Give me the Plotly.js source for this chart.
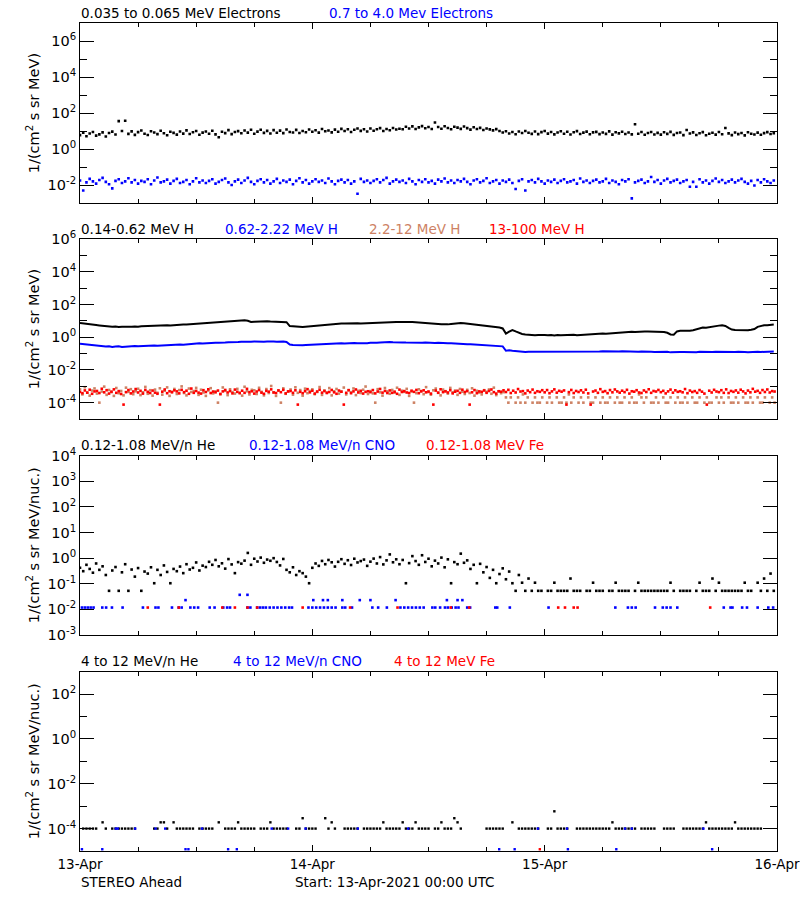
<!DOCTYPE html>
<html><head><meta charset="utf-8">
<script src="https://cdn.plot.ly/plotly-3.0.1.min.js"></script>
<style>html,body{margin:0;padding:0;background:#fff}#chart{width:800px;height:900px}</style>
</head><body><div id="chart"></div>
<script>
const _ = null;
const startDate = '2021-04-13';
const dayLabels = ['13-Apr', '14-Apr', '15-Apr', '16-Apr'];
const dayTicks = ['2021-04-13', '2021-04-14', '2021-04-15', '2021-04-16'];
const minorHours = [6, 12, 18, 30, 36, 42, 54, 60, 66];

// ---- Panel 1: electrons (20-min samples) ----
const elecLow = [
6.0,8.1,5.2,7.4,9.0,5.6,6.6,8.5,5.0,7.8,
9.4,6.5,36,10.2,38,7.0,9.7,6.2,8.8,10.8,
7.2,6.1,9.9,8.4,6.8,10.5,7.6,5.9,9.2,8.0,
6.4,9.6,7.3,11.0,6.9,8.7,10.1,6.3,8.2,9.5,
7.1,10.4,6.6,4.6,9.3,7.7,11.3,6.8,8.9,10.0,
7.6,10.8,8.2,11.9,7.2,9.4,12.0,8.0,10.3,7.4,
11.4,8.1,10.6,7.7,12.3,9.0,8.4,11.8,7.9,10.2,
8.6,12.4,9.3,11.1,8.2,13.0,9.8,10.9,8.5,12.1,
9.2,13.4,10.1,12.6,9.0,11.9,14.0,10.3,12.8,9.6,
13.9,10.5,12.7,14.6,10.2,13.2,11.1,15.0,12.4,13.6,
12.6,17.4,14.1,18.3,13.0,16.2,19.0,14.4,17.1,13.2,
30,16.8,13.6,18.7,14.9,12.8,17.5,15.6,13.4,18.0,
14.6,12.1,16.4,13.0,15.2,11.6,14.1,12.5,11.0,12.9,
10.1,8.3,9.9,7.4,8.9,6.7,9.6,7.8,10.2,8.1,
7.0,9.5,6.8,8.8,10.1,7.3,9.0,6.6,8.4,9.8,
7.1,9.3,6.5,8.7,10.0,6.9,8.2,9.4,6.7,8.5,
9.1,6.8,8.3,7.0,9.7,6.4,8.6,7.5,9.2,6.9,
8.4,6.6,24,7.2,8.9,6.3,7.9,9.0,6.5,8.0,
6.4,8.6,7.0,9.1,6.2,7.8,8.3,6.0,11.5,7.4,
8.5,6.1,7.6,8.8,5.9,7.2,8.1,6.4,8.9,6.7,
15,7.5,6.0,8.4,6.8,7.9,5.8,8.6,7.1,6.5,
8.2,6.3,7.7,8.8,6.9,7.6];
const elecHigh = [
.018,.005,.014,.022,.016,.012,.019,.025,.015,.011,
.0065,.017,.021,.013,.016,.024,.014,.019,.012,.017,
.015,.021,.011,.018,.026,.014,.016,.020,.012,.017,
.022,.013,.015,.019,.011,.016,.024,.014,.018,.013,
.017,.021,.012,.015,.019,.023,.014,.010,.016,.020,
.013,.018,.025,.015,.011,.017,.021,.014,.019,.012,
.016,.022,.013,.018,.015,.020,.011,.017,.024,.014,
.019,.012,.016,.021,.015,.018,.013,.023,.016,.011,
.017,.020,.014,.019,.012,.016,.0033,.022,.015,.018,
.013,.017,.021,.014,.019,.025,.012,.016,.020,.015,
.018,.013,.022,.016,.011,.019,.015,.021,.014,.017,
.012,.020,.016,.023,.014,.018,.013,.019,.016,.022,
.015,.011,.018,.021,.014,.017,.024,.013,.016,.019,
.012,.018,.015,.020,.013,.006,.017,.021,.005,.016,
.019,.014,.022,.016,.012,.018,.015,.020,.013,.017,
.021,.014,.016,.019,.012,.023,.015,.018,.013,.017,
.020,.014,.016,.022,.013,.018,.015,.011,.019,.016,
.021,.0018,.014,.017,.020,.013,.016,.028,.015,.019,
.012,.018,.022,.014,.017,.020,.013,.016,.019,.008,
.015,.008,.021,.014,.018,.012,.017,.023,.015,.019,
.013,.016,.020,.014,.018,.022,.015,.012,.017,.0095,
.019,.014,.021,.016,.013,.018];

// ---- Panel 2: protons ----
const hLow = [  // 20-min
7.6,7.0,6.6,6.1,5.8,5.6,5.3,5.0,4.7,4.5,
4.4,4.6,4.3,4.5,4.4,4.7,4.5,4.6,4.4,4.8,
4.9,5.1,4.9,5.2,5.0,5.3,5.4,5.5,5.3,5.6,
5.8,5.7,6.0,6.1,6.3,6.2,6.6,6.9,6.8,7.1,
7.4,7.6,8.0,8.2,8.1,8.6,8.9,9.3,9.5,9.8,
10.5,11.0,10.2,8.7,8.9,9.2,9.0,9.4,9.6,9.3,
9.0,8.8,8.9,8.7,8.5,4.9,4.6,4.4,4.5,4.3,
4.5,4.7,4.9,5.0,5.3,5.6,5.9,6.3,6.6,6.9,
6.8,7.0,6.9,7.1,6.8,7.0,7.2,6.9,7.1,7.0,
7.3,7.5,7.8,8.0,8.2,8.4,8.6,8.7,8.8,8.6,
8.8,8.7,8.9,8.6,8.3,7.9,7.5,7.2,6.9,7.0,
6.8,6.5,6.3,6.0,6.2,6.5,7.0,7.4,7.6,7.3,
6.9,6.3,5.9,5.6,5.5,5.4,5.2,4.9,4.6,4.4,
4.0,3.5,1.7,2.2,2.8,2.3,1.9,1.6,1.5,1.4,
1.4,1.35,1.4,1.45,1.4,1.35,1.4,1.3,1.4,1.35,
1.4,1.45,1.38,1.42,1.35,1.4,1.45,1.5,1.48,1.55,
1.6,1.65,1.7,1.68,1.75,1.72,1.8,1.85,1.9,2.0,
2.1,2.2,2.15,2.25,2.2,2.3,2.25,2.2,2.15,2.2,
2.25,2.1,1.9,1.5,1.45,2.3,2.5,2.45,2.6,2.5,
2.7,3.1,3.6,4.0,3.8,4.2,4.5,4.8,5.2,5.5,
5.0,3.8,3.0,2.8,2.75,2.7,2.8,2.75,2.9,3.2,
4.4,5.2,5.5,5.4,5.7,6.0];
const hMid = [  // 20-min
.40,.38,.36,.33,.30,.29,.27,.26,.27,.28,
.26,.27,.28,.26,.27,.28,.27,.29,.28,.29,
.30,.31,.30,.32,.31,.32,.33,.32,.34,.33,
.35,.36,.35,.37,.38,.40,.41,.43,.42,.44,
.45,.44,.46,.47,.46,.48,.50,.49,.52,.51,
.53,.55,.52,.54,.55,.53,.56,.54,.55,.57,
.55,.54,.56,.55,.52,.36,.34,.33,.34,.33,
.34,.35,.36,.35,.37,.38,.39,.40,.41,.42,
.41,.43,.42,.44,.43,.45,.44,.43,.45,.44,
.46,.45,.47,.48,.50,.49,.51,.50,.48,.47,
.49,.48,.47,.49,.48,.46,.47,.48,.46,.47,
.45,.46,.44,.45,.43,.44,.42,.43,.41,.40,
.38,.37,.36,.35,.34,.35,.33,.34,.32,.31,
.30,.28,.15,.16,.15,.14,.135,.13,.125,.13,
.13,.135,.13,.128,.132,.13,.135,.13,.127,.133,
.13,.135,.128,.132,.137,.13,.134,.14,.133,.138,
.14,.136,.142,.138,.14,.135,.141,.137,.14,.136,
.135,.138,.13,.133,.136,.13,.128,.132,.127,.13,
.128,.125,.13,.12,.118,.122,.126,.128,.125,.13,
.127,.124,.129,.126,.122,.128,.125,.13,.127,.124,
.126,.122,.128,.125,.13,.123,.127,.124,.129,.126,
.13,.127,.132,.128,.131,.134];
const hHigh = [  // 2.2-12 MeV H, 15-min
6.5e-4,3.2e-4,8.8e-4,4.1e-4,2.7e-4,5.5e-4,7.4e-4,3.6e-4,
1.0e-4,4.8e-4,9.6e-4,3.0e-4,6.0e-4,4.4e-4,2.6e-4,7.9e-4,
3.8e-4,5.2e-4,2.8e-4,8.3e-4,4.6e-4,6.7e-4,3.3e-4,5.0e-4,
7.1e-4,2.9e-4,4.3e-4,9.2e-4,3.5e-4,5.8e-4,2.7e-4,6.3e-4,
4.0e-4,7.6e-4,3.1e-4,5.4e-4,8.6e-4,2.6e-4,4.7e-4,6.9e-4,
3.4e-4,5.9e-4,9.9e-4,3.9e-4,2.8e-4,7.3e-4,4.5e-4,5.1e-4,
8.0e-4,3.0e-4,6.2e-4,4.2e-4,2.6e-4,5.6e-4,7.7e-4,3.7e-4,
4.9e-4,1.0e-4,3.3e-4,8.5e-4,5.3e-4,2.9e-4,6.6e-4,4.4e-4,
3.6e-4,7.0e-4,4.1e-4,2.7e-4,9.4e-4,5.0e-4,3.2e-4,6.1e-4,
5.7e-4,3.4e-4,8.1e-4,4.6e-4,2.8e-4,6.8e-4,3.9e-4,1.05e-3,
4.3e-4,2.6e-4,5.5e-4,1.0e-4,7.5e-4,3.5e-4,4.8e-4,6.4e-4,
3.1e-4,8.7e-4,4.0e-4,5.9e-4,2.7e-4,7.2e-4,3.8e-4,5.2e-4,
6.5e-4,3.3e-4,4.5e-4,9.0e-4,3.0e-4,5.6e-4,4.2e-4,7.8e-4,
2.8e-4,5.0e-4,6.9e-4,3.6e-4,4.7e-4,8.4e-4,3.2e-4,5.8e-4,
4.4e-4,7.4e-4,2.9e-4,5.3e-4,3.9e-4,6.2e-4,9.7e-4,3.4e-4,
5.1e-4,3.7e-4,1.0e-4,6.7e-4,4.3e-4,2.7e-4,7.9e-4,4.9e-4,
3.5e-4,6.0e-4,4.1e-4,8.2e-4,3.0e-4,5.4e-4,4.6e-4,7.0e-4,
2.6e-4,4.8e-4,1.0e-4,3.8e-4,6.6e-4,5.2e-4,3.3e-4,8.9e-4,
4.5e-4,3.1e-4,5.7e-4,7.3e-4,4.0e-4,2.8e-4,6.3e-4,5.0e-4,
3.6e-4,8.0e-4,4.3e-4,5.5e-4,3.0e-4,6.9e-4,4.7e-4,3.4e-4,
6.1e-4,3.9e-4,7.6e-4,2.7e-4,5.3e-4,4.2e-4,3.2e-4,5.8e-4,
4.6e-4,6.4e-4,3.5e-4,8.3e-4,2.9e-4,5.0e-4,3.8e-4,4.4e-4,
2.1e-4,1.0e-4,2.1e-4,_,1.0e-4,2.1e-4,1.0e-4,3.2e-4,
1.0e-4,2.1e-4,_,1.0e-4,2.1e-4,1.0e-4,1.0e-4,2.1e-4,
_,1.0e-4,2.1e-4,1.0e-4,_,2.1e-4,1.0e-4,1.0e-4,
2.1e-4,1.0e-4,3.2e-4,1.0e-4,2.1e-4,_,1.0e-4,2.1e-4,
1.0e-4,_,2.1e-4,1.0e-4,1.0e-4,2.1e-4,_,1.0e-4,
2.1e-4,1.0e-4,1.0e-4,2.1e-4,_,1.0e-4,2.1e-4,1.0e-4,
1.0e-4,2.1e-4,_,1.0e-4,2.1e-4,1.0e-4,1.0e-4,3.2e-4,
2.1e-4,1.0e-4,2.1e-4,_,1.0e-4,1.0e-4,2.1e-4,1.0e-4,
_,2.1e-4,1.0e-4,1.0e-4,2.1e-4,_,1.0e-4,2.1e-4,
1.0e-4,1.0e-4,2.1e-4,1.0e-4,_,2.1e-4,1.0e-4,1.0e-4,
2.1e-4,_,1.0e-4,2.1e-4,1.0e-4,1.0e-4,_,2.1e-4,
1.0e-4,2.1e-4,1.0e-4,_,2.1e-4,1.0e-4,1.0e-4,2.1e-4,
1.0e-4,_,2.1e-4,1.0e-4,1.0e-4,2.1e-4,1.0e-4,_,
2.1e-4,1.0e-4,1.0e-4,2.1e-4,_,1.0e-4,2.1e-4,1.0e-4];
const hTop = [  // 13-100 MeV H, 15-min
4.5e-4,3.8e-4,5.6e-4,4.1e-4,6.2e-4,3.5e-4,4.9e-4,5.2e-4,
3.9e-4,7.1e-4,4.3e-4,5.8e-4,3.6e-4,4.7e-4,6.5e-4,4.0e-4,
5.1e-4,3.4e-4,7.6e-5,4.4e-4,5.9e-4,3.7e-4,4.8e-4,6.8e-4,
4.2e-4,5.3e-4,3.6e-4,6.0e-4,4.6e-4,3.9e-4,5.5e-4,4.1e-4,
3.5e-4,7.6e-5,4.7e-4,6.4e-4,3.8e-4,5.0e-4,4.3e-4,5.7e-4,
4.9e-4,3.7e-4,6.1e-4,4.4e-4,5.4e-4,3.5e-4,7.3e-4,4.0e-4,
5.2e-4,4.1e-4,3.6e-4,5.8e-4,4.5e-4,6.6e-4,3.9e-4,4.8e-4,
4.3e-4,5.5e-4,3.4e-4,4.9e-4,6.0e-4,4.2e-4,5.1e-4,3.7e-4,
6.3e-4,4.6e-4,3.8e-4,5.4e-4,4.0e-4,7.0e-4,4.4e-4,5.0e-4,
3.6e-4,4.8e-4,5.9e-4,4.1e-4,3.5e-4,5.3e-4,4.7e-4,6.5e-4,
4.2e-4,3.9e-4,5.6e-4,4.4e-4,6.1e-4,3.7e-4,4.9e-4,5.2e-4,
4.0e-4,5.7e-4,7.6e-5,4.6e-4,3.8e-4,5.0e-4,6.7e-4,4.3e-4,
5.4e-4,3.6e-4,4.8e-4,6.2e-4,4.1e-4,5.1e-4,3.9e-4,4.5e-4,
6.0e-4,4.3e-4,3.5e-4,5.5e-4,4.7e-4,7.6e-5,4.0e-4,5.8e-4,
3.8e-4,4.9e-4,6.4e-4,4.2e-4,5.3e-4,3.6e-4,4.6e-4,5.0e-4,
4.4e-4,5.9e-4,3.7e-4,4.8e-4,6.9e-4,4.1e-4,5.2e-4,3.9e-4,
5.6e-4,4.0e-4,4.7e-4,3.5e-4,6.3e-4,4.5e-4,5.1e-4,4.2e-4,
3.9e-4,5.4e-4,4.6e-4,6.0e-4,3.8e-4,4.9e-4,5.7e-4,4.3e-4,
4.8e-4,3.6e-4,7.6e-5,5.5e-4,4.1e-4,6.6e-4,4.4e-4,5.0e-4,
4.2e-4,5.8e-4,3.7e-4,4.7e-4,5.3e-4,4.0e-4,6.2e-4,4.5e-4,
5.1e-4,7.6e-5,4.3e-4,5.9e-4,3.8e-4,4.9e-4,4.6e-4,5.6e-4,
4.0e-4,5.2e-4,6.4e-4,4.4e-4,3.6e-4,5.0e-4,4.7e-4,5.7e-4,
4.5e-4,6.1e-4,3.9e-4,5.4e-4,4.2e-4,6.8e-4,4.8e-4,5.1e-4,
3.7e-4,5.5e-4,4.4e-4,6.3e-4,4.0e-4,5.0e-4,4.6e-4,5.8e-4,
4.3e-4,5.9e-4,3.8e-4,4.9e-4,6.5e-4,4.1e-4,5.3e-4,4.7e-4,
5.6e-4,7.6e-5,4.4e-4,6.0e-4,3.9e-4,5.2e-4,4.5e-4,5.7e-4,
4.2e-4,6.2e-4,3.7e-4,7.6e-5,4.8e-4,5.5e-4,4.0e-4,6.7e-4,
4.6e-4,5.1e-4,3.8e-4,5.9e-4,4.3e-4,6.4e-4,4.9e-4,4.1e-4,
5.4e-4,4.4e-4,6.1e-4,3.6e-4,5.0e-4,4.7e-4,5.8e-4,4.2e-4,
3.9e-4,5.6e-4,4.5e-4,6.6e-4,4.0e-4,5.2e-4,4.8e-4,6.0e-4,
4.4e-4,5.3e-4,3.7e-4,4.9e-4,6.3e-4,4.1e-4,5.7e-4,4.6e-4,
5.0e-4,4.3e-4,6.8e-4,3.8e-4,5.5e-4,4.5e-4,5.1e-4,4.0e-4,
5.9e-4,4.7e-4,3.6e-4,7.6e-5,5.4e-4,4.2e-4,6.1e-4,4.8e-4,
4.4e-4,5.8e-4,4.0e-4,6.5e-4,3.9e-4,5.2e-4,4.6e-4,5.6e-4,
4.1e-4,6.2e-4,4.9e-4,3.7e-4,5.5e-4,4.3e-4,7.0e-4,4.7e-4,
5.3e-4,4.0e-4,5.9e-4,4.5e-4,6.4e-4,4.2e-4,5.1e-4,4.8e-4];

// ---- Panel 3: 0.12-1.08 MeV/n ions ----
const heLow = [  // 20-min
.42,.31,.55,.38,.27,.62,.35,.48,.22,.053,
.33,.45,.053,.28,.58,.053,.36,.19,.41,.053,
.30,.25,.44,.105,.35,.22,.52,.29,.105,.38,
.31,.47,.26,.58,.36,.42,.68,.33,.51,.45,
.72,.55,.85,.48,.63,.39,.92,.57,.26,.70,
.61,.80,1.6,.55,.95,.74,1.05,.66,.88,.79,
1.0,.71,.52,.93,.35,.28,.44,.22,.31,.26,
.19,.105,.42,.62,.50,.78,.58,.85,.69,.47,
.72,.91,.60,.83,.54,.95,.68,.77,.88,.50,
.73,.96,.62,1.1,.57,.82,1.4,.69,.90,.58,
.85,.105,.64,1.2,.77,.55,1.3,.71,.95,.48,
.80,.62,1.05,.44,.90,.105,.70,.58,1.5,.66,
.82,.38,.55,.105,.60,.28,.45,.17,.35,.105,
.24,.40,.15,.30,.105,.053,.22,.11,.053,.16,
.053,.11,.053,.053,_,.053,.053,.11,.053,.053,
.053,.053,.16,.053,.053,.053,_,.053,.053,.11,
.053,.053,.053,_,.053,.053,.11,.053,.053,.053,
.053,_,.053,.11,.053,.053,.053,.053,.053,.053,
.053,.053,.053,.11,.053,_,.053,.053,.053,.053,
_,.053,.11,.053,.053,.053,.16,.053,.11,.053,
.053,.053,.053,.053,.053,.053,.11,.053,.053,_,
.11,.053,.16,.053,.25,.053];
const cnoLowHours = [
0.2,0.5,0.8,1.1,1.4,2.3,2.7,3.3,4.4,6.5,7.8,8.1,9.5,10.2,10.5,11.4,11.8,12.2,13.4,13.9,
14.8,15.2,15.5,17.3,17.6,18.3,18.6,18.9,19.2,19.6,20.0,20.4,20.8,21.2,21.6,21.9,23.6,24.0,24.4,24.8,
25.2,25.6,26.0,26.4,27.1,27.4,28.1,30.2,30.8,31.7,33.1,33.5,33.9,34.3,34.7,35.1,35.5,36.4,36.7,37.2,
37.7,38.0,38.4,38.8,39.1,40.0,40.3,42.9,43.1,44.4,48.4,55.3,56.6,57.0,57.4,59.4,60.2,60.6,61.0,61.7,
66.5,67.2,67.4,68.4,68.9,70.0,71.1,71.6,
10.9,24.1,25.1,25.6,27.1,28.9,30.0,32.6,37.9,39.0,39.5,
16.5,17.3];
const cnoLowVals = [
.0118,.0118,.0118,.0118,.0118,.0118,.0118,.0118,.0118,.0118,.0118,.0118,.0118,.0118,.0118,.0118,.0118,.0118,.0118,.0118,
.0118,.0118,.0118,.0118,.0118,.0118,.0118,.0118,.0118,.0118,.0118,.0118,.0118,.0118,.0118,.0118,.0118,.0118,.0118,.0118,
.0118,.0118,.0118,.0118,.0118,.0118,.0118,.0118,.0118,.0118,.0118,.0118,.0118,.0118,.0118,.0118,.0118,.0118,.0118,.0118,
.0118,.0118,.0118,.0118,.0118,.0118,.0118,.0118,.0118,.0118,.0118,.0118,.0118,.0118,.0118,.0118,.0118,.0118,.0118,.0118,
.0118,.0118,.0118,.0118,.0118,.0118,.0118,.0118,
.023,.023,.023,.023,.023,.023,.023,.023,.023,.023,.023,
.037,.037];
const feLowHours = [7.0,10.2,14.7,16.0,17.3,18.3,23.0,27.9,32.8,38.3,40.2,49.4,50.1,51.0,51.4,65.1];
const feLowVals = [.0118,.0118,.0118,.0118,.0118,.0118,.0118,.0118,.0118,.0118,.0118,.0118,.0118,.0118,.0118,.0118];

// ---- Panel 4: 4-12 MeV/n ions ----
const heHigh = [  // 20-min
_,1e-4,1e-4,1e-4,1e-4,1e-4,_,1.9e-4,1e-4,_,
1e-4,1e-4,1e-4,1e-4,1e-4,1e-4,1e-4,1e-4,_,_,
_,_,_,1e-4,1e-4,1.9e-4,1.9e-4,1e-4,_,1.9e-4,
1e-4,1e-4,1e-4,1e-4,1e-4,1e-4,_,1e-4,1e-4,1e-4,
1e-4,1e-4,_,1.9e-4,_,1e-4,1e-4,1e-4,1e-4,1.9e-4,
1e-4,1e-4,1e-4,1e-4,1e-4,_,1e-4,1e-4,1e-4,1.9e-4,
1e-4,1e-4,1e-4,1e-4,1e-4,_,_,1e-4,1e-4,2.9e-4,
1e-4,1e-4,1e-4,1e-4,_,_,2.9e-4,1e-4,1.9e-4,1e-4,
_,_,1e-4,1e-4,1e-4,1e-4,1e-4,_,1e-4,1e-4,
1e-4,1e-4,1e-4,1e-4,1.9e-4,1e-4,1e-4,1e-4,1e-4,1e-4,
1.9e-4,1e-4,1e-4,1e-4,1.9e-4,1e-4,1e-4,1e-4,1e-4,_,
1e-4,1e-4,1.9e-4,1e-4,1e-4,1e-4,2.9e-4,1.9e-4,1e-4,_,
_,_,_,_,_,_,1e-4,1e-4,1e-4,1e-4,
1e-4,1e-4,_,_,1.9e-4,_,1e-4,1e-4,1e-4,1e-4,
1e-4,1e-4,1e-4,_,_,1e-4,1e-4,5.9e-4,1e-4,1e-4,
1e-4,1e-4,_,_,1e-4,1e-4,1e-4,1e-4,1e-4,1e-4,
1e-4,1e-4,1e-4,1e-4,1e-4,1.9e-4,1e-4,1e-4,1e-4,1e-4,
1e-4,1e-4,1e-4,_,1e-4,1e-4,1e-4,1e-4,1e-4,_,
_,1e-4,1e-4,1e-4,1e-4,_,_,1e-4,1e-4,1e-4,
1e-4,1e-4,1e-4,1e-4,1.9e-4,1e-4,1e-4,1e-4,1e-4,1e-4,
1e-4,1e-4,1e-4,1.9e-4,1e-4,1e-4,1e-4,1e-4,1e-4,1e-4,
1e-4,1e-4,_,_,_,_];
const cnoHighHours = [3.7,3.9,5.7,7.8,8.8,12.6,19.8,21.5,23.3,28.7,33.9,47.3,50.3,56.3,57.0,64.4,
                      0.2,2.3,10.9,11.2,15.3,16.2,43.3,44.9,50.4,55.4,65.3];
const cnoHighVals = [1e-4,1e-4,1e-4,1e-4,1e-4,1e-4,1e-4,1e-4,1e-4,1e-4,1e-4,1e-4,1e-4,1e-4,1e-4,1e-4,
                     1.2e-5,1.2e-5,1.2e-5,1.2e-5,1.2e-5,1.2e-5,1.2e-5,1.2e-5,1.2e-5,1.2e-5,1.2e-5];
const feHighHours = [47.5];
const feHighVals = [1.2e-5];

// ---- helpers (time axis) ----
const t0 = Date.parse(startDate + 'T00:00:00Z');
const toDate = ms => new Date(ms).toISOString().slice(0, 23).replace('T', ' ');
const gridX = (n, stepMin) => Array.from({length: n}, (v, i) => toDate(t0 + i * stepMin * 60000));
const hoursX = hs => hs.map(h => toDate(t0 + h * 3600000));

const BLUE = '#0000ff', RED = '#ff0000', SALMON = '#cd8264', BLACK = '#000000';
const dots = (x, y, color, xa, ya, size) => ({
  type: 'scatter', mode: 'markers', x, y, xaxis: xa, yaxis: ya, cliponaxis: true,
  marker: {symbol: 'square', size: size || 2.6, color, line: {width: 0}}, hoverinfo: 'skip'
});
const line = (x, y, color, xa, ya) => ({
  type: 'scatter', mode: 'lines', x, y, xaxis: xa, yaxis: ya,
  line: {color, width: 2}, hoverinfo: 'skip', connectgaps: false
});

const traces = [
  dots(gridX(elecLow.length, 20), elecLow, BLACK, 'x', 'y', 2.6),
  dots(gridX(elecHigh.length, 20), elecHigh, BLUE, 'x', 'y', 2.6),
  line(gridX(hLow.length, 20), hLow, BLACK, 'x2', 'y2'),
  line(gridX(hMid.length, 20), hMid, BLUE, 'x2', 'y2'),
  dots(gridX(hHigh.length, 15), hHigh, SALMON, 'x2', 'y2', 2.6),
  dots(gridX(hTop.length, 15), hTop, RED, 'x2', 'y2', 2.6),
  dots(gridX(heLow.length, 20), heLow, BLACK, 'x3', 'y3', 2.6),
  dots(hoursX(cnoLowHours), cnoLowVals, BLUE, 'x3', 'y3', 2.6),
  dots(hoursX(feLowHours), feLowVals, RED, 'x3', 'y3', 2.6),
  dots(gridX(heHigh.length, 20), heHigh, BLACK, 'x4', 'y4', 2.4),
  dots(hoursX(cnoHighHours), cnoHighVals, BLUE, 'x4', 'y4', 2.4),
  dots(hoursX(feHighHours), feHighVals, RED, 'x4', 'y4', 2.4)
];

// ---- layout ----
const W = 800, H = 900, L = 80, R = 777;
const FONT = 'DejaVu Sans';
const px2x = px => (px - L) / (R - L);
const py2y = py => 1 - py / H;
const panels = [[23.3, 203], [239.3, 419], [455.7, 635], [671.7, 851]];

function xAxis(i) {
  return {
    type: 'date', range: [dayTicks[0], dayTicks[3]], anchor: 'y' + (i ? i + 1 : ''),
    domain: [0, 1], tickmode: 'array', tickvals: dayTicks, ticktext: dayLabels,
    ticks: 'inside', ticklen: 6, tickwidth: 1, tickcolor: BLACK,
    showline: true, linecolor: BLACK, linewidth: 1, mirror: 'allticks',
    showgrid: false, zeroline: false, showticklabels: i === 3, ticklabeloverflow: 'allow',
    ticklabelstandoff: 1,
    tickfont: {family: FONT, size: 13.5, color: BLACK},
    minor: {tickmode: 'array', tickvals: minorHours.map(h => toDate(t0 + h * 3600000)),
            ticks: 'inside', ticklen: 4, tickwidth: 1, tickcolor: BLACK, showgrid: false},
    fixedrange: true
  };
}
function yAxis(i, range, majorExp, minorExp) {
  const ax = {
    type: 'log', range, anchor: 'x' + (i ? i + 1 : ''),
    domain: [py2y(panels[i][1]), py2y(panels[i][0])],
    tickmode: 'array', tickvals: majorExp.map(e => Math.pow(10, e)),
    ticktext: majorExp.map(e => '10<sup>' + e + '</sup>'),
    ticks: 'inside', ticklen: 14, tickwidth: 1, tickcolor: BLACK,
    showline: true, linecolor: BLACK, linewidth: 1, mirror: 'allticks',
    showgrid: false, zeroline: false,
    tickfont: {family: FONT, size: 14.5, color: BLACK}, fixedrange: true
  };
  if (minorExp.length) ax.minor = {tickmode: 'array', tickvals: minorExp.map(e => Math.pow(10, e)),
    ticks: 'inside', ticklen: 7, tickwidth: 1, tickcolor: BLACK, showgrid: false};
  return ax;
}

const ann = (text, px, py, color, extra) => Object.assign({
  text, xref: 'paper', yref: 'paper', x: px2x(px), y: py2y(py), xanchor: 'left', yanchor: 'middle',
  showarrow: false, font: {family: FONT, size: 13.5, color: color || BLACK}, borderpad: 0
}, extra || {});
const yTitle = (text, i) => ann(text, 33, (panels[i][0] + panels[i][1]) / 2, BLACK,
  {xanchor: 'center', textangle: -90, font: {family: FONT, size: 14.5, color: BLACK}});

const layout = {
  width: W, height: H, paper_bgcolor: '#fff', plot_bgcolor: '#fff', showlegend: false,
  margin: {l: L, r: W - R, t: 0, b: 0},
  xaxis: xAxis(0), xaxis2: xAxis(1), xaxis3: xAxis(2), xaxis4: xAxis(3),
  yaxis: yAxis(0, [-3, 7], [-2, 0, 2, 4, 6], [-1, 1, 3, 5]),
  yaxis2: yAxis(1, [-5, 6], [-4, -2, 0, 2, 4, 6], [-3, -1, 1, 3, 5]),
  yaxis3: yAxis(2, [-3, 4], [-3, -2, -1, 0, 1, 2, 3, 4], []),
  yaxis4: yAxis(3, [-5, 3], [-4, -2, 0, 2], [-3, -1, 1]),
  annotations: [
    ann('0.035 to 0.065 MeV Electrons', 80, 13),
    ann('0.7 to 4.0 Mev Electrons', 328, 13, BLUE),
    ann('0.14-0.62 MeV H', 80, 229),
    ann('0.62-2.22 MeV H', 224, 229, BLUE),
    ann('2.2-12 MeV H', 368, 229, SALMON),
    ann('13-100 MeV H', 488, 229, RED),
    ann('0.12-1.08 MeV/n He', 80, 445),
    ann('0.12-1.08 MeV/n CNO', 248, 445, BLUE),
    ann('0.12-1.08 MeV Fe', 425, 445, RED),
    ann('4 to 12 MeV/n He', 80, 661),
    ann('4 to 12 MeV/n CNO', 232, 661, BLUE),
    ann('4 to 12 MeV Fe', 393, 661, RED),
    ann('STEREO Ahead', 80, 882),
    ann('Start: 13-Apr-2021 00:00 UTC', 294, 882),
    yTitle('1/(cm<sup>2</sup> s sr MeV)', 0),
    yTitle('1/(cm<sup>2</sup> s sr MeV)', 1),
    yTitle('1/(cm<sup>2</sup> s sr MeV/nuc.)', 2),
    yTitle('1/(cm<sup>2</sup> s sr MeV/nuc.)', 3)
  ]
};

Plotly.newPlot('chart', traces, layout, {displayModeBar: false, staticPlot: true});
</script>
</body></html>
